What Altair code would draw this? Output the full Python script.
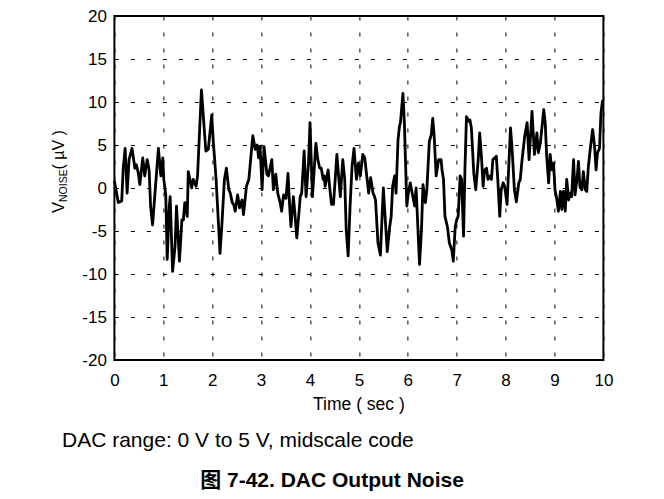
import altair as alt
import pandas as pd

# ---- data ----
time_s = [
    0.00, 0.08, 0.15, 0.18, 0.22, 0.26, 0.30, 0.36, 0.42, 0.45,
    0.49, 0.52, 0.58, 0.62, 0.67, 0.71, 0.74, 0.78, 0.83, 0.90,
    0.95, 0.99, 1.01, 1.05, 1.08, 1.12, 1.14, 1.19, 1.24, 1.27,
    1.33, 1.38, 1.41, 1.44, 1.49, 1.51, 1.58, 1.61, 1.67, 1.70,
    1.78, 1.87, 1.92, 1.99, 2.02, 2.08, 2.16,
    2.20, 2.25, 2.29, 2.34, 2.37, 2.41, 2.44, 2.47, 2.52, 2.56,
    2.61, 2.64, 2.70, 2.75, 2.83, 2.88, 2.92, 2.95, 2.98, 3.02,
    3.06, 3.12, 3.15, 3.19, 3.22, 3.25, 3.30, 3.34, 3.39, 3.42,
    3.46, 3.51, 3.55, 3.58, 3.61, 3.66, 3.69, 3.73, 3.78, 3.80,
    3.83, 3.88, 3.92, 3.97, 4.00,
    4.05, 4.12, 4.16, 4.20, 4.23, 4.27, 4.29, 4.31, 4.37, 4.40,
    4.44, 4.48, 4.52, 4.55, 4.59, 4.62, 4.67, 4.71, 4.74, 4.78,
    4.82, 4.86, 4.90, 4.95, 4.99, 5.03, 5.08, 5.12, 5.16, 5.20,
    5.24, 5.29, 5.32, 5.34, 5.39, 5.44, 5.48, 5.50, 5.54, 5.58,
    5.63, 5.66, 5.69, 5.73, 5.76, 5.80, 5.83, 5.85, 5.90, 5.93,
    5.98, 6.01, 6.05, 6.09, 6.14, 6.17,
    6.24, 6.28, 6.31, 6.36, 6.39, 6.44, 6.48, 6.51, 6.54, 6.58,
    6.63, 6.68, 6.70, 6.73, 6.76, 6.81, 6.85, 6.90, 6.93, 6.97,
    7.00, 7.03, 7.07, 7.10, 7.14, 7.17, 7.20, 7.24, 7.27, 7.30,
    7.35, 7.39, 7.44, 7.47, 7.51, 7.54, 7.57, 7.61, 7.64, 7.68,
    7.71, 7.74, 7.78, 7.81, 7.84, 7.88, 7.91, 7.95, 7.98,
    8.03, 8.10, 8.13, 8.18, 8.22, 8.27, 8.30, 8.33, 8.39, 8.44,
    8.48, 8.54, 8.59, 8.64, 8.67, 8.71, 8.78, 8.81, 8.84, 8.88,
    8.91, 8.95, 8.98, 9.01, 9.05, 9.08, 9.12, 9.15, 9.18, 9.22,
    9.25, 9.29, 9.32, 9.35, 9.39, 9.42, 9.46, 9.49, 9.52, 9.56,
    9.59, 9.63, 9.66, 9.69, 9.73, 9.78, 9.82, 9.85, 9.88, 9.92,
    9.95, 9.98, 10.00,
]

noise_uv = [
    0.8, -1.7, -1.5, 2.3, 4.6, -0.6, 3.3, 4.6, 2.3, 2.7,
    1.7, 0.4, 3.5, 1.4, 3.3, 2.1, -2.1, -4.3, -0.6, 4.6,
    1.4, 3.5, 1.0, -0.8, -8.3, -2.3, -1.0, -9.7, -6.8, -2.1,
    -8.5, -3.7, -3.7, -1.7, -3.3, 1.9, 0.0, 1.0, 0.2, 1.4,
    11.4, 4.3, 4.5, 8.5, 5.6, 1.0, -7.6,
    -4.1, 1.0, 2.3, -0.2, -0.6, -1.7, -1.9, -2.7, -0.8, -2.3,
    -1.4, -3.1, 0.2, 1.0, 6.1, 4.5, 5.0, 3.5, 4.8, -0.2,
    4.8, 1.6, 1.4, 2.5, 3.3, -0.2, 1.6, -0.6, -1.7, -2.7,
    -0.8, -1.2, 1.7, -1.7, -4.5, -1.0, -2.9, -5.8, -2.5, -1.0,
    -0.6, 4.3, -1.0, 2.9, 7.6,
    -1.0, 5.2, 3.3, 2.3, 2.3, 1.0, 1.4, 0.2, 2.1, 0.2,
    -1.9, -1.9, 1.4, 3.9, 1.0, -1.0, 3.3, 1.0, -4.8, -7.9,
    -2.1, 2.5, 4.6, 1.0, 2.9, 1.4, 3.9, 3.5, 1.4, -0.6,
    1.2, -0.6, -1.0, -1.4, -6.4, -7.8, -2.5, 0.0, -3.7, -7.4,
    -4.5, -3.3, 0.2, 1.4, -0.6, 5.6, 7.2, 7.6, 11.0, 7.6,
    -2.1, -0.6, 0.6, -0.6, -2.1, 0.0,
    -8.9, -4.8, 0.4, -1.7, -0.2, 5.4, 6.2, 8.1, 6.0, 1.4,
    3.3, 3.3, 2.1, 1.0, -3.3, -4.5, -6.4, -7.2, -8.5, -4.5,
    -3.7, -3.3, 1.4, 1.0, -5.6, 2.5, 8.3, 7.8, 7.9, 7.0,
    1.7, -0.2, 3.3, 6.4, 3.3, 0.2, 2.1, 2.3, 1.0, 1.4,
    1.0, 3.3, 3.5, 3.7, 1.0, -3.3, -0.2, 0.6, 0.2,
    -1.9, 7.0, 4.8, -0.2, -1.6, 0.6, 1.0, 2.9, 6.0, 7.6,
    3.3, 8.9, 3.9, 6.4, 4.1, 5.2, 9.1, 7.6, 3.7, 0.6,
    3.9, 2.1, 2.9, -0.2, -1.4, -2.7, -0.4, -2.5, -0.4, -2.7,
    1.0, -1.4, -0.6, -1.0, 3.3, -0.8, 1.0, 3.1, 0.2, -0.2,
    1.9, -0.2, -0.4, 2.3, 4.5, 6.8, 4.8, 2.1, 4.1, 4.6,
    8.7, 10.1, 10.2,
]

x_ticks = list(range(0, 11))
y_ticks = list(range(-20, 25, 5))

x_title = "Time ( sec )"
y_title_main = "V"
y_title_sub = "NOISE"
y_title_unit = " ( \u00b5V )"
note_text = "DAC range: 0 V to 5 V, midscale code"
caption_text = "\u56fe 7-42. DAC Output Noise"

FONT = "Liberation Sans, Arial, Noto Sans CJK SC, sans-serif"

df = pd.DataFrame({"t": time_s, "v": noise_uv})
one = pd.DataFrame({"k": [0]})

W, H = 489, 344

grid_style = dict(
    grid=True, gridColor="black", gridDash=[4, 12], gridWidth=1, gridOpacity=1,
    domain=False, ticks=False, labelFlush=False, labelExpr="'' + datum.value",
    labelFont=FONT, labelFontSize=17, labelColor="black", title=None,
)

line = alt.Chart(df).mark_line(color="black", strokeWidth=2.8, strokeJoin="round").encode(
    x=alt.X(
        "t:Q",
        scale=alt.Scale(domain=[0, 10], nice=False, zero=False),
        axis=alt.Axis(values=x_ticks, labelPadding=12, **grid_style),
    ),
    y=alt.Y(
        "v:Q",
        scale=alt.Scale(domain=[-20, 20], nice=False, zero=False),
        axis=alt.Axis(values=y_ticks, labelPadding=8, **grid_style),
    ),
)


def txt(s, x, y, size, angle=0, weight="normal", align="left"):
    return alt.Chart(one).mark_text(
        font=FONT, fontSize=size, fontWeight=weight, color="black",
        align=align, baseline="alphabetic", angle=angle,
    ).encode(x=alt.value(x), y=alt.value(y), text=alt.value(s))


xt = txt(x_title, 244.5, 394.0, 17.5, align="center")
title_v = txt(y_title_main, -50.4, 197.0, 16.5, angle=270)
title_sub = txt(y_title_sub, -47.6, 186.0, 10.5, angle=270)
title_unit = txt(y_title_unit, -50.4, 153.5, 16, angle=270)
note = txt(note_text, -52.4, 431.0, 21)
caption = txt(caption_text, 217.6, 471.0, 21, weight="bold", align="center")

chart = alt.layer(line, xt, title_v, title_sub, title_unit, note, caption).properties(
    width=W, height=H,
    autosize=alt.AutoSizeParams(type="none"),
    padding={"left": 106.4, "top": 8, "right": 52.6, "bottom": 131},
    background="white",
).configure_view(stroke="black", strokeWidth=2)

chart.save("out.html", embed_options={"renderer": "svg", "actions": False})
